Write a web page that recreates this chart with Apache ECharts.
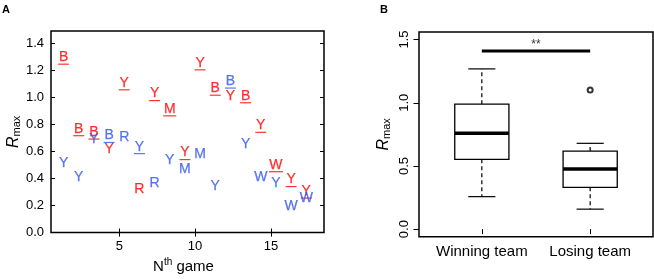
<!DOCTYPE html>
<html><head><meta charset="utf-8">
<script src="https://cdn.jsdelivr.net/npm/echarts@6/dist/echarts.min.js"></script>
<style>html,body{margin:0;padding:0;background:#fff}#c{width:654px;height:279px}</style>
</head><body><div id="c"></div>
<script>
// ---------- Panel A data ----------
const games = [1,2,3,4,5,6,7,8,9,10,11,12,13,14,15,16,17];
const redLetters = ['B','B','B','Y','Y','R','Y','M','Y','Y','B','Y','B','Y','W','Y','Y'];
const redValues = [1.30,0.77,0.745,0.62,1.11,0.325,1.03,0.917,0.593,1.258,1.07,1.014,1.014,0.795,0.503,0.393,0.308];
const blueLetters = ['Y','Y','Y','B','R','Y','R','Y','M','M','Y','B','Y','W','Y','W','W'];
const blueValues = [0.515,0.41,0.69,0.72,0.71,0.637,0.364,0.54,0.473,0.583,0.345,1.123,0.654,0.41,0.369,0.199,0.252];
const winner = ['red','red','red','blue','red','blue','red','red','red','red','red','blue','red','red','red','red','red'];
const xTicksA = [5,10,15];
const yTicksA = [0,0.2,0.4,0.6,0.8,1.0,1.2,1.4];
// ---------- Panel B data ----------
const boxCategories = ['Winning team','Losing team'];
const boxLow = [0.257,0.158];
const boxQ1 = [0.552,0.331];
const boxMedian = [0.758,0.476];
const boxQ3 = [0.989,0.618];
const boxHigh = [1.268,0.679];
const outlierCat = [2];
const outlierVal = [1.10];
const sigY = 1.41;
const sigLabel = '**';
const yTicksB = [0,0.5,1.0,1.5];

const RED = '#ff0000', BLUE = '#3355ee';
const FONT = 'Liberation Sans';
const letterW = {B:11, Y:11, M:13, W:14, R:11};

const redData = games.map((g,i)=>[g, redValues[i], redLetters[i]]);
const blueData = games.map((g,i)=>[g, blueValues[i], blueLetters[i]]);
const ulData = games.map((g,i)=>{
  const isRed = winner[i]==='red';
  const v = isRed ? redValues[i] : blueValues[i];
  const l = isRed ? redLetters[i] : blueLetters[i];
  return {value:[g, v, letterW[l]], itemStyle:{color: isRed ? RED : BLUE}};
});
const boxData = boxCategories.map((c,i)=>[i+1, boxLow[i], boxQ1[i], boxMedian[i], boxQ3[i], boxHigh[i]]);

const chart = echarts.init(document.getElementById('c'), null, {renderer:'canvas'});
const lbl = {fontFamily:FONT, color:'#000', fontSize:13};
const rmaxRich = {r:{fontFamily:FONT, fontStyle:'italic', fontSize:16, color:'#000'}, s:{fontFamily:FONT, fontSize:11, color:'#000', verticalAlign:'bottom', padding:[6,0,0,0]}};
const letterLabel = (col)=>({show:true, position:'inside', offset:[5,0], formatter:p=>p.value[2], color:col,
  fontFamily:FONT, fontSize:14, textBorderColor:col, textBorderWidth:0.25});

chart.setOption({
  animation:false,
  textStyle:{fontFamily:FONT},
  grid:[
    {left:51, top:31, width:273, height:204.7, show:true, borderColor:'#000', borderWidth:1.5, backgroundColor:'transparent'},
    {left:419, top:32, width:234, height:204.7, show:true, borderColor:'#000', borderWidth:1.5, backgroundColor:'transparent'}
  ],
  xAxis:[
    {gridIndex:0, type:'value', min:0.5, max:18.5, axisLine:{show:false}, splitLine:{show:false},
     axisTick:{inside:true, length:4, customValues:xTicksA, lineStyle:{color:'#000'}},
     axisLabel:Object.assign({customValues:xTicksA, margin:7}, lbl),
     name:'{n|N}{sup|th}{g| game}', nameLocation:'middle', nameGap:24,
     nameTextStyle:{padding:[0,8,0,0], rich:{n:{fontFamily:FONT,fontSize:15,color:'#000'}, sup:{fontFamily:FONT,fontSize:10,color:'#000',verticalAlign:'top', padding:[0,0,8,0]}, g:{fontFamily:FONT,fontSize:15,color:'#000'}}}},
    {gridIndex:0, type:'value', position:'top', min:0.5, max:18.5, axisLine:{show:false}, splitLine:{show:false},
     axisTick:{inside:true, length:4, customValues:xTicksA, lineStyle:{color:'#000'}}, axisLabel:{show:false}},
    {gridIndex:1, type:'value', min:0.42, max:2.58, axisLine:{show:false}, splitLine:{show:false},
     axisTick:{length:5, customValues:[1,2], lineStyle:{color:'#000'}},
     axisLabel:Object.assign({customValues:[1,2], margin:8, formatter:v=>boxCategories[Math.round(v)-1]}, lbl, {fontSize:15})}
  ],
  yAxis:[
    {gridIndex:0, type:'value', min:0, max:1.494, axisLine:{show:false}, splitLine:{show:false},
     axisTick:{inside:true, length:4, customValues:yTicksA, lineStyle:{color:'#000'}},
     axisLabel:Object.assign({customValues:yTicksA, margin:7, formatter:v=>v.toFixed(1)}, lbl),
     name:'{r|R}{s|max}', nameLocation:'middle', nameRotate:90, nameGap:23, nameTextStyle:{rich:rmaxRich}},
    {gridIndex:0, type:'value', position:'right', min:0, max:1.494, axisLine:{show:false}, splitLine:{show:false},
     axisTick:{inside:true, length:4, customValues:yTicksA, lineStyle:{color:'#000'}}, axisLabel:{show:false}},
    {gridIndex:1, type:'value', min:-0.06, max:1.56, axisLine:{show:false}, splitLine:{show:false},
     axisTick:{length:5.5, customValues:yTicksB, lineStyle:{color:'#000'}},
     axisLabel:Object.assign({customValues:yTicksB, margin:8, rotate:90, formatter:v=>v.toFixed(1)}, lbl),
     name:'{r|R}{s|max}', nameLocation:'middle', nameRotate:90, nameGap:27, nameTextStyle:{rich:rmaxRich}}
  ],
  graphic:[
    {type:'text', left:2, top:4, style:{text:'A', font:'bold 11px "Liberation Sans"', fill:'#000'}},
    {type:'text', left:380, top:4, style:{text:'B', font:'bold 11px "Liberation Sans"', fill:'#000'}}
  ],
  series:[
    {type:'scatter', xAxisIndex:0, yAxisIndex:0, data:ulData, symbol:'rect',
     symbolSize:v=>[v[2],1.2], symbolOffset:[5,7], silent:true},
    {type:'scatter', xAxisIndex:0, yAxisIndex:0, data:redData, symbolSize:0, silent:true, label:letterLabel(RED)},
    {type:'scatter', xAxisIndex:0, yAxisIndex:0, data:blueData, symbolSize:0, silent:true, label:letterLabel(BLUE)},
    {type:'custom', xAxisIndex:2, yAxisIndex:2, data:boxData, silent:true,
     renderItem:(params, api)=>{
       const x = api.value(0);
       const c = api.coord([x, 0])[0];
       const l = api.coord([x-0.25, 0])[0], r = api.coord([x+0.25, 0])[0];
       const cl = api.coord([x-0.125, 0])[0], cr = api.coord([x+0.125, 0])[0];
       const yLow = api.coord([x, api.value(1)])[1];
       const yQ1 = api.coord([x, api.value(2)])[1];
       const yMed = api.coord([x, api.value(3)])[1];
       const yQ3 = api.coord([x, api.value(4)])[1];
       const yHigh = api.coord([x, api.value(5)])[1];
       const st = {stroke:'#000', lineWidth:1.2};
       return {type:'group', children:[
         {type:'line', shape:{x1:c,y1:yQ3,x2:c,y2:yHigh}, style:Object.assign({lineDash:[4,3]}, st)},
         {type:'line', shape:{x1:c,y1:yQ1,x2:c,y2:yLow}, style:Object.assign({lineDash:[4,3]}, st)},
         {type:'line', shape:{x1:cl,y1:yHigh,x2:cr,y2:yHigh}, style:st},
         {type:'line', shape:{x1:cl,y1:yLow,x2:cr,y2:yLow}, style:st},
         {type:'rect', shape:{x:l,y:yQ3,width:r-l,height:yQ1-yQ3}, style:{fill:'#fff', stroke:'#000', lineWidth:1.3}},
         {type:'line', shape:{x1:l,y1:yMed,x2:r,y2:yMed}, style:{stroke:'#000', lineWidth:3.5}}
       ]};
     }},
    {type:'scatter', xAxisIndex:2, yAxisIndex:2, data:outlierCat.map((c,i)=>[c, outlierVal[i]]),
     symbol:'emptyCircle', symbolSize:5, itemStyle:{color:'#000', borderColor:'#000', borderWidth:1}, silent:true},
    {type:'line', xAxisIndex:2, yAxisIndex:2, data:[[1,sigY],[2,sigY]], symbol:'none',
     lineStyle:{color:'#000', width:3}, silent:true},
    {type:'scatter', xAxisIndex:2, yAxisIndex:2, data:[[1.5,sigY]], symbolSize:0, silent:true,
     label:{show:true, position:'top', distance:0, formatter:sigLabel, color:'#000', fontFamily:FONT, fontSize:12}}
  ]
});
</script></body></html>
